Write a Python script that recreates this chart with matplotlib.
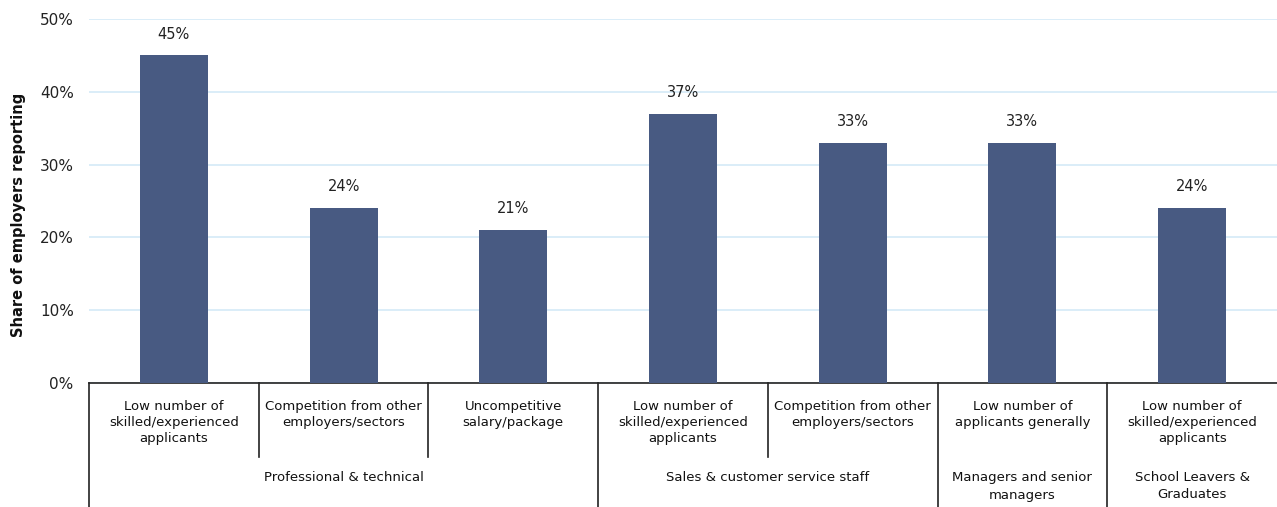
import matplotlib
matplotlib.use("Agg")
import matplotlib.pyplot as plt

sub_labels = [
    "Low number of\nskilled/experienced\napplicants",
    "Competition from other\nemployers/sectors",
    "Uncompetitive\nsalary/package",
    "Low number of\nskilled/experienced\napplicants",
    "Competition from other\nemployers/sectors",
    "Low number of\napplicants generally",
    "Low number of\nskilled/experienced\napplicants",
]
values = [45, 24, 21, 37, 33, 33, 24]
groups = ["Professional & technical", "Sales & customer service staff",
          "Managers and senior\nmanagers", "School Leavers &\nGraduates"]
group_sizes = [3, 2, 1, 1]
yticks = [0, 10, 20, 30, 40, 50]

bar_color = "#485A82"
grid_color = "#D8ECF8"

fig = plt.figure(figsize=(12.77, 5.07), dpi=100)
ax = fig.add_axes([89/1277, 124/507, 1188/1277, 364/507])

x = list(range(len(values)))
ax.bar(x, values, width=0.4, color=bar_color, zorder=3)
for xi, v in zip(x, values):
    ax.annotate(f"{v}%", (xi, v), xytext=(0, 10), textcoords="offset points",
                ha="center", va="bottom", fontsize=10.5, color="#222222")

ax.set_xlim(-0.5, len(values) - 0.5)
ax.set_ylim(0, 50)
ax.set_yticks(yticks)
ax.set_yticklabels([f"{t}%" for t in yticks], fontsize=11, color="#222222")
ax.set_xticks([])
ax.grid(axis="y", color=grid_color, linewidth=1.3, zorder=0)
ax.tick_params(axis="y", length=0, pad=11)
for s in ["top", "right", "left"]:
    ax.spines[s].set_visible(False)
ax.spines["bottom"].set_linewidth(1.2)
ax.spines["bottom"].set_color("#222222")
ax.set_ylabel("Share of employers reporting", fontsize=10.5, fontweight="bold",
              color="#111111")
ax.yaxis.set_label_coords(-63 / 1188, 168 / 364)

tr = ax.get_xaxis_transform()
ah = 364.0
short_y = -74 / ah
full_y = -126 / ah

# left border
ax.plot([-0.5, -0.5], [0, full_y], transform=tr, color="#222222", lw=1.2, clip_on=False)

# sub-labels
for xi, lab in zip(x, sub_labels):
    ax.text(xi, -17 / ah, lab, transform=tr, ha="center", va="top",
            fontsize=9.5, linespacing=1.3, color="#111111")

# separators
boundaries = []
pos = 0
for gs in group_sizes:
    for k in range(1, gs):
        boundaries.append((pos + k - 0.5, short_y))
    pos += gs
    if pos < len(values):
        boundaries.append((pos - 0.5, full_y))
for bx, by in boundaries:
    ax.plot([bx, bx], [0, by], transform=tr, color="#222222", lw=1.2, clip_on=False)

# group labels
pos = 0
for g, gs in zip(groups, group_sizes):
    cx = pos + (gs - 1) / 2
    ax.text(cx, -88 / ah, g, transform=tr, ha="center", va="top",
            fontsize=9.5, linespacing=1.45, color="#111111")
    pos += gs

fig.savefig("out.png", dpi=100)
